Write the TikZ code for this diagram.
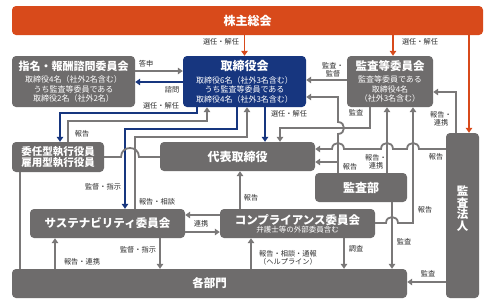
\documentclass[tikz,border=0pt]{standalone}
\usepackage{fontspec}
\setmainfont{Noto Sans CJK JP}
\usetikzlibrary{arrows.meta}
\definecolor{orng}{HTML}{D84A1B}
\definecolor{navyb}{HTML}{17367F}
\definecolor{boxg}{HTML}{6E6C6C}
\definecolor{lineg}{HTML}{7A7878}
\definecolor{labg}{HTML}{2E2E2E}
\begin{document}
\begin{tikzpicture}[x=1pt,y=-1pt,
  box/.style={fill=boxg, rounded corners=4pt, text=white, inner sep=0pt, align=center},
  navybox/.style={box, fill=navyb},
  obox/.style={box, fill=orng},
  ttl/.style={font=\fontsize{11.5}{13}\selectfont\bfseries},
  subtx/.style={font=\fontsize{8}{9.5}\selectfont},
  lab/.style={font=\fontsize{7.2}{8.5}\selectfont, text=labg, inner sep=0pt, align=center},
  gline/.style={draw=lineg, line width=1.8pt},
  garr/.style={gline, -{Triangle[length=5pt,width=6.5pt]}},
  nline/.style={draw=navyb, line width=1.8pt},
  narr/.style={nline, -{Triangle[length=5pt,width=6.5pt]}},
  oarr/.style={draw=orng, line width=1.8pt, -{Triangle[length=5pt,width=6.5pt]}},
]
\useasboundingbox (0,0) rectangle (494,306);
\fill[white] (0,0) rectangle (494,306);

% boxes
\node[obox, minimum width=471pt, minimum height=29pt, font=\fontsize{12}{13}\selectfont\bfseries] (kabu) at (247.5,20.5) {株主総会};
\node[navybox, minimum width=123pt, minimum height=51pt, subtx] (tori) at (244.5,81.5)
  {{\fontsize{12}{13}\selectfont\bfseries 取締役会}\\[3pt]取締役6名（社外3名含む）\\うち監査等委員である\\取締役4名（社外3名含む）};
\node[box, minimum width=123pt, minimum height=51pt, subtx] (shimei) at (73.5,81.5)
  {{\fontsize{11}{13}\selectfont\bfseries 指名・報酬諮問委員会}\\[3pt]取締役4名（社外2名含む）\\うち監査等委員である\\取締役2名（社外2名）};
\node[box, minimum width=86pt, minimum height=51pt, subtx] (kansa) at (390,81.5)
  {{\fontsize{11.5}{13}\selectfont\bfseries 監査等委員会}\\[3pt]監査等委員である\\取締役4名\\（社外3名含む）};
\node[box, minimum width=92pt, minimum height=30pt, font=\fontsize{10.5}{11.5}\selectfont\bfseries] (shikko) at (58,157) {委任型執行役員\\雇用型執行役員};
\node[box, minimum width=155pt, minimum height=29pt, font=\fontsize{12}{13}\selectfont\bfseries] (daihyo) at (237.5,156.5) {代表取締役};
\node[box, minimum width=92pt, minimum height=29pt, font=\fontsize{12}{13}\selectfont\bfseries] (kansabu) at (361,187.5) {監査部};
\node[box, minimum width=33pt, minimum height=165pt] (hojin) at (462.5,215.5) {};
\node[font=\fontsize{11.5}{11.5}\selectfont\bfseries, text=white, align=center, inner sep=0pt] (hojintext) at (462.5,208.5) {監\\査\\法\\人};
\node[box, minimum width=155pt, minimum height=29pt, ttl] (sus) at (107.5,223.5) {サステナビリティ委員会};
\node[box, minimum width=155pt, minimum height=29pt, font=\fontsize{7.5}{9}\selectfont] (comp) at (297.5,223.5)
  {{\fontsize{11.5}{13}\selectfont\bfseries コンプライアンス委員会}\\[-1pt]弁護士等の外部委員含む};
\node[box, minimum width=395pt, minimum height=29pt, ttl] (kaku) at (209.5,283.5) {各部門};

% orange arrows
\draw[oarr] (kabu.south -| tori.north) -- (tori.north);
\draw[oarr] (393,0 |- kabu.south) -- (393,0 |- kansa.north);
\draw[oarr] (469,0 |- kabu.south) -- (469,0 |- hojin.north);

% shimei / tori
\draw[garr] (shimei.east |- 0,71) -- (tori.west |- 0,71);
\draw[narr] (tori.west |- 0,82) -- (shimei.east |- 0,82);

% tori -> shikko, shikko -> tori
\draw[narr] (197,0 |- tori.south) -- (197,113) -- (60,113) -- (60,0 |- shikko.north);
\draw[garr] (68,0 |- shikko.north) -- (68,121) -- (207,121) -- (207,0 |- tori.south);
% tori -> sus, sus -> tori
\draw[narr] (237,0 |- tori.south) -- (237,129) -- (125,129) -- (125,0 |- sus.north);
\draw[garr] (135,0 |- sus.north) -- (135,137) -- (247,137) -- (247,0 |- tori.south);
% tori -> daihyo
\draw[narr] (265,0 |- tori.south) -- (265,0 |- daihyo.north);

% kansa -> tori
\draw[garr] (kansa.west |- 0,80) -- (tori.east |- 0,80);
% kansa -> daihyo
\draw[garr] (370,0 |- kansa.south) -- (370,128) -- (280,128) -- (280,0 |- daihyo.north);
% kansabu -> tori / daihyo
\coordinate (br) at (338,162);
\draw[garr] (338,0 |- kansabu.north) -- (338,134) .. controls (346,134) and (346,122) .. (338,122) -- (338,97) -- (tori.east |- 0,97);
\draw[garr] (br) -- (daihyo.east |- br);
% kansabu -> kansa
\draw[garr] (387,0 |- kansabu.north) -- (387,0 |- kansa.south);
% comp -> kansa
\draw[garr] (comp.east |- 0,223) -- (386,223) .. controls (386,215) and (398,215) .. (398,223) -- (413,223) -- (413,0 |- kansa.south);
% hojin -> kansa
\draw[garr] (456,0 |- hojin.north) -- (456,92) -- (kansa.east |- 0,92);
% hojin -> daihyo
\draw[garr] (hojin.west |- 0,149) -- (419,149) .. controls (419,141) and (407,141) .. (407,149)
  -- (393,149) .. controls (393,141) and (381,141) .. (381,149)
  -- (344,149) .. controls (344,141) and (332,141) .. (332,149) -- (daihyo.east |- 0,149);
% hojin -> kaku
\draw[garr] (hojin.west |- 0,282) -- (kaku.east |- 0,282);
% kansabu -> kaku
\draw[garr] (392,0 |- kansabu.south) -- (392,0 |- kaku.north);
% comp -> kaku, kaku -> comp, comp -> daihyo
\draw[garr] (344,0 |- comp.south) -- (344,0 |- kaku.north);
\draw[garr] (251,0 |- kaku.north) -- (251,0 |- comp.south);
\draw[garr] (240,0 |- comp.north) -- (240,0 |- daihyo.south);
% comp <-> sus
\draw[garr] (comp.west |- 0,215) -- (sus.east |- 0,215);
\draw[garr] (sus.east |- 0,232) -- (comp.west |- 0,232);
% sus <-> kaku
\draw[garr] (160,0 |- sus.south) -- (160,0 |- kaku.north);
\draw[garr] (55,0 |- kaku.north) -- (55,0 |- sus.south);
% shikko lines
\draw[gline] (20,0 |- shikko.south) -- (20,0 |- kaku.north);
\draw[gline] (shikko.east |- 0,157) -- (121,157) .. controls (121,145) and (139,145) .. (139,157) -- (daihyo.west |- 0,157);

% labels
\node[lab] (l1) at (221,42) {選任・解任};
\node[lab] (l2) at (420,42) {選任・解任};
\node[lab] (l3) at (146,64) {答申};
\node[lab] (l4) at (172,90) {諮問};
\node[lab] (l5) at (161,106) {選任・解任};
\node[lab] (l6) at (82,134) {報告};
\node[lab] (l7) at (103,187) {監督・指示};
\node[lab] (l8) at (157,202) {報告・相談};
\node[lab] (l9) at (289,114) {選任・解任};
\node[lab] (l10) at (333,70) {監査・\\監督};
\node[lab] (l11) at (356,113) {監査};
\node[lab] (l12) at (441,119) {報告・\\連携};
\node[lab] (l13) at (436,157) {報告};
\node[lab] (l14) at (350,167) {報告};
\node[lab] (l15) at (376,162) {報告・\\連携};
\node[lab] (l16) at (251,198) {報告};
\node[lab] (l17) at (201,224) {連携};
\node[lab] (l18) at (82,262) {報告・連携};
\node[lab] (l19) at (138,250) {監督・指示};
\node[lab, anchor=west, align=left] (l20) at (259,258) {報告・相談・通報\\（ヘルプライン）};
\node[lab] (l21) at (356,249) {調査};
\node[lab] (l22) at (404,242) {監査};
\node[lab] (l23) at (425,210) {報告};
\node[lab] (l24) at (428,274) {監査};
\end{tikzpicture}
\end{document}
